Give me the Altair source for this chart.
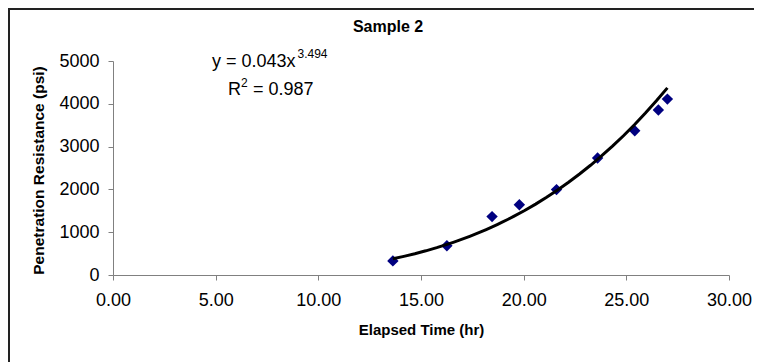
import altair as alt
import pandas as pd

# Data
elapsed_hr = [13.63, 16.26, 18.46, 19.79, 21.60, 23.60, 25.41, 26.56, 27.00]
resistance_psi = [330, 685, 1365, 1640, 1995, 2735, 3370, 3855, 4110]

chart_title = "Sample 2"
eq_main = "y = 0.043x"
eq_exp = "3.494"
r2_main = "R"
r2_exp = "2"
r2_val = "= 0.987"
x_title = "Elapsed Time (hr)"
y_title = "Penetration Resistance (psi)"

df = pd.DataFrame({"t": elapsed_hr, "p": resistance_psi})

W, H = 616, 214
PL, PT = 105, 53
PR, PB = 746 - PL - W, 354 - PT - H

FONT = "Liberation Sans"

xs = alt.Scale(domain=[0, 30], nice=False)
ys = alt.Scale(domain=[0, 5000], nice=False)

x_axis = alt.Axis(
    values=[0, 5, 10, 15, 20, 25, 30], format=".2f", grid=False,
    title=x_title, titleFont=FONT, titleFontSize=15, titleFontWeight="bold",
    titleColor="black", titleY=54, titleBaseline="middle",
    labelFont=FONT, labelFontSize=18, labelColor="black", labelPadding=11,
    domainColor="#808080", tickColor="#808080", tickSize=5, labelFlush=False,
)
y_axis = alt.Axis(
    values=[0, 1000, 2000, 3000, 4000, 5000], format="d", grid=False,
    title=y_title, titleFont=FONT, titleFontSize=15.5, titleFontWeight="bold",
    titleColor="black", titleX=-75, titleY=109, titleBaseline="middle",
    titleAngle=270, titleAlign="center",
    labelFont=FONT, labelFontSize=18, labelColor="black", labelPadding=9,
    domainColor="#808080", tickColor="#808080", tickSize=5, labelFlush=False,
)

base = alt.Chart(df)

points = base.mark_point(shape="diamond", filled=True, size=130, color="#000080", opacity=1).encode(
    x=alt.X("t:Q", scale=xs, axis=x_axis),
    y=alt.Y("p:Q", scale=ys, axis=y_axis),
)

trend = base.transform_regression("t", "p", method="pow").mark_line(
    color="black", strokeWidth=3
).encode(x=alt.X("t:Q", scale=xs), y=alt.Y("p:Q", scale=ys))


def label(text, x, y, size=18, weight="normal", align="left"):
    return alt.Chart(pd.DataFrame({"s": [text]})).mark_text(
        font=FONT, fontSize=size, fontWeight=weight, align=align,
        baseline="alphabetic", color="black",
    ).encode(text="s:N", x=alt.value(x), y=alt.value(y))


texts = [
    label(chart_title, 275, -29.5, size=16, weight="bold", align="center"),
    label(eq_main, 99, 6, size=18),
    label(eq_exp, 184.5, -3.5, size=12),
    label(r2_main, 115, 33.5, size=18),
    label(r2_exp, 128, 25.5, size=12),
    label(r2_val, 140, 33.5, size=18),
]

border_left = alt.Chart(pd.DataFrame({"a": [0]})).mark_rule(color="#222222", strokeWidth=2).encode(
    x=alt.value(-PL + 1), y=alt.value(-PT), y2=alt.value(H + PB)
)
border_top = alt.Chart(pd.DataFrame({"a": [0]})).mark_rule(color="#222222", strokeWidth=2).encode(
    y=alt.value(-PT + 1), x=alt.value(-PL), x2=alt.value(W + PR)
)

chart = alt.layer(points, trend, *texts, border_left, border_top).properties(
    width=W, height=H,
    autosize=alt.AutoSizeParams(type="none"),
    padding={"left": PL, "top": PT, "right": PR, "bottom": PB},
    background="white",
).configure_view(stroke=None)

chart.save("out.html", embed_options={"renderer": "svg", "actions": False})
